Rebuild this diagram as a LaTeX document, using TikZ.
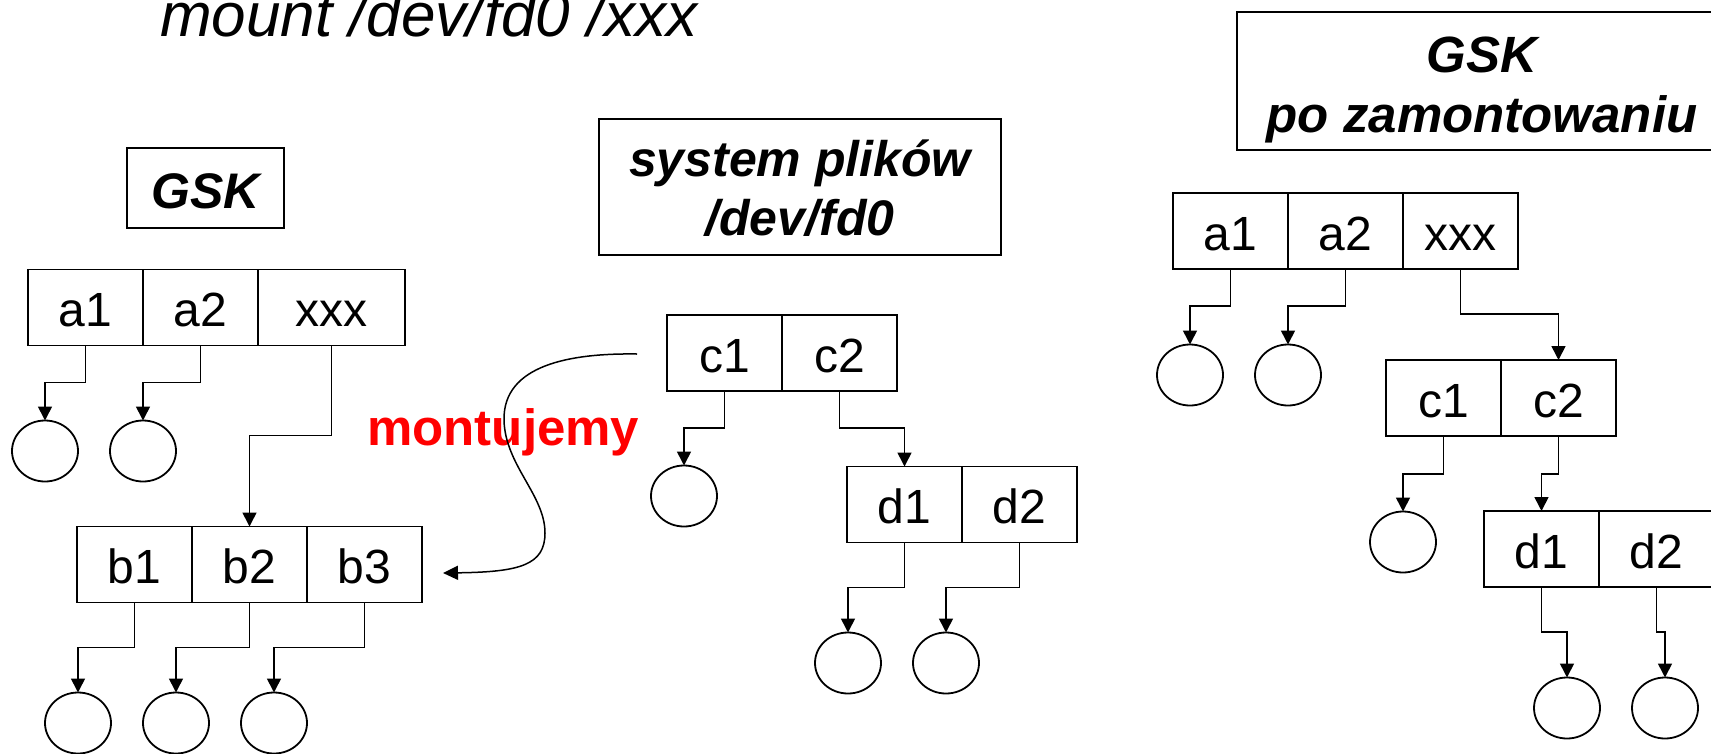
\documentclass[tikz,border=0pt]{standalone}
\usepackage{fontspec}
\setmainfont{Liberation Sans}
\usetikzlibrary{arrows.meta,shapes.geometric}
\tikzset{
  cell/.style={draw, line width=1.8pt, minimum width=115pt, minimum height=76pt,
    inner sep=0pt, outer sep=0pt, text height=38pt, text depth=0pt,
    font=\fontsize{48}{58}\selectfont},
  leaf/.style={draw, ellipse, line width=1.8pt, minimum width=66pt,
    minimum height=61pt, inner sep=0pt, outer sep=0pt},
  conn/.style={line width=1.6pt, -{Triangle[length=14pt,width=14pt]}},
  curvearr/.style={line width=1.5pt, -{Triangle[length=15pt,width=14pt]}},
  titlebox/.style={draw, line width=1.8pt, inner sep=0pt, outer sep=0pt,
    align=center, text depth=0pt, font=\fontsize{50}{59}\bfseries\itshape\selectfont},
  titletext/.style={inner sep=0pt, outer sep=0pt, align=center, text depth=0pt,
    font=\fontsize{51}{60}\bfseries\itshape\selectfont},
}
\begin{document}
\begin{tikzpicture}[x=1pt,y=-1pt]
\useasboundingbox (0,0) rectangle (1711,753);

% command line
\node[anchor=base west, inner sep=0pt, font=\fontsize{62}{70}\itshape\selectfont]
  (cmd) at (160,36) {mount /dev/fd0 /xxx};

% ---------- left: original tree ----------
\node[titlebox, minimum width=157pt, minimum height=80pt, text height=40pt]
  (gsk) at (205.5,188) {GSK};

\node[cell] (La1) at (85.5,307.5) {a1};
\node[cell] (La2) at (200.5,307.5) {a2};
\node[cell, minimum width=147pt] (Lx) at (331.5,307.5) {xxx};
\node[leaf] (Lo1) at (45,451) {};
\node[leaf] (Lo2) at (143,451) {};

\node[cell] (Lb1) at (134.5,564.5) {b1};
\node[cell] (Lb2) at (249.5,564.5) {b2};
\node[cell] (Lb3) at (364.5,564.5) {b3};
\node[leaf] (Lo3) at (78,723) {};
\node[leaf] (Lo4) at (176,723) {};
\node[leaf] (Lo5) at (274,723) {};

\draw[conn] (La1.south) -- ++(0,37) -| (Lo1.north);
\draw[conn] (La2.south) -- ++(0,37) -| (Lo2.north);
\draw[conn] (Lx.south) -- ++(0,90) -| (Lb2.north);
\draw[conn] (Lb1.south) -- ++(0,45) -| (Lo3.north);
\draw[conn] (Lb2.south) -- ++(0,45) -| (Lo4.north);
\draw[conn] (Lb3.south) -- ++(0,45) -| (Lo5.north);

% ---------- middle: floppy file system ----------
\node[titlebox, minimum width=402pt, minimum height=136pt, text height=96pt]
  (fs) at (800,187) {system plików\\/dev/fd0};

\node[cell] (Mc1) at (724.5,353) {c1};
\node[cell] (Mc2) at (839.5,353) {c2};
\node[leaf] (Mo1) at (684,496) {};
\node[cell] (Md1) at (904.5,504.5) {d1};
\node[cell] (Md2) at (1019.5,504.5) {d2};
\node[leaf] (Mo2) at (848,663) {};
\node[leaf] (Mo3) at (946,663) {};

\draw[conn] (Mc1.south) -- ++(0,37) -| (Mo1.north);
\draw[conn] (Mc2.south) -- ++(0,37) -| (Md1.north);
\draw[conn] (Md1.south) -- ++(0,45) -| (Mo2.north);
\draw[conn] (Md2.south) -- ++(0,45) -| (Mo3.north);

% mounting arrow
\node[anchor=base west, inner sep=0pt, text=red,
  font=\fontsize{51}{60}\bfseries\selectfont] (mlabel) at (367,445) {montujemy};
\coordinate (mstart) at ([xshift=-30pt,yshift=-1pt]Mc1.west);
\coordinate (mend) at ([xshift=21pt,yshift=-8.5pt]Lb3.east);
\draw[curvearr] (mstart) .. controls (570,353) and (503,365) .. (504,420)
  .. controls (505,465) and (545,495) .. (545,533)
  .. controls (545,565) and (520,572) .. (mend);

% ---------- right: tree after mounting ----------
\node[draw, line width=1.8pt, inner sep=0pt, outer sep=0pt,
  minimum width=476pt, minimum height=138pt] (gskpo) at (1475,81) {};
\node[titletext, text height=102pt] (gskpotxt) at (1482,81) {GSK\\po zamontowaniu};

\node[cell] (Ra1) at (1230.5,231) {a1};
\node[cell] (Ra2) at (1345.5,231) {a2};
\node[cell] (Rx) at (1460.5,231) {xxx};
\node[leaf] (Ro1) at (1190,375) {};
\node[leaf] (Ro2) at (1288,375) {};

\node[cell] (Rc1) at (1443.5,398) {c1};
\node[cell] (Rc2) at (1558.5,398) {c2};
\node[leaf] (Ro3) at (1403,542) {};

\node[cell] (Rd1) at (1541.5,549) {d1};
\node[cell] (Rd2) at (1656.5,549) {d2};
\node[leaf] (Ro4) at (1567,708) {};
\node[leaf] (Ro5) at (1665,708) {};

\draw[conn] (Ra1.south) -- ++(0,37) -| (Ro1.north);
\draw[conn] (Ra2.south) -- ++(0,37) -| (Ro2.north);
\draw[conn] (Rx.south) -- ++(0,45) -| (Rc2.north);
\draw[conn] (Rc1.south) -- ++(0,38) -| (Ro3.north);
\draw[conn] (Rc2.south) -- ++(0,38) -| (Rd1.north);
\draw[conn] (Rd1.south) -- ++(0,45) -| (Ro4.north);
\draw[conn] (Rd2.south) -- ++(0,45) -| (Ro5.north);
\end{tikzpicture}
\end{document}
